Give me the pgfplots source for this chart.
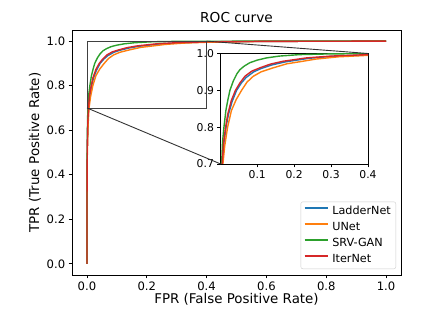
\documentclass[border=0pt]{standalone}
\usepackage{fontspec}
\setmainfont{DejaVu Sans}
\usepackage{pgfplots}
\usepackage{pgfplotstable}
\pgfplotsset{compat=1.18}
\definecolor{mplblue}{HTML}{1F77B4}
\definecolor{mplorange}{HTML}{FF7F0E}
\definecolor{mplgreen}{HTML}{2CA02C}
\definecolor{mplred}{HTML}{D62728}

% ROC points (fpr tpr)
\pgfplotstableread{
fpr tpr
0 0
0.0003 0.32
0.001 0.52
0.003 0.64
0.0055 0.70
0.010 0.76
0.0155 0.80
0.022 0.835
0.032 0.870
0.044 0.900
0.057 0.920
0.070 0.935
0.090 0.950
0.110 0.959
0.140 0.969
0.175 0.977
0.240 0.987
0.300 0.992
0.400 0.996
0.600 0.999
1.000 1.000
}\ladder
\pgfplotstableread{
fpr tpr
0 0
0.0003 0.30
0.001 0.48
0.004 0.63
0.007 0.70
0.012 0.75
0.0197 0.80
0.030 0.845
0.043 0.875
0.0576 0.900
0.072 0.922
0.089 0.938
0.110 0.950
0.143 0.961
0.180 0.972
0.224 0.979
0.260 0.985
0.320 0.991
0.400 0.995
0.600 0.999
1.000 1.000
}\unet
\pgfplotstableread{
fpr tpr
0 0
0.0003 0.35
0.001 0.55
0.002 0.65
0.0035 0.70
0.006 0.76
0.0098 0.80
0.015 0.845
0.020 0.872
0.026 0.900
0.035 0.925
0.045 0.945
0.053 0.956
0.065 0.966
0.080 0.975
0.100 0.982
0.125 0.988
0.160 0.993
0.215 0.997
0.300 0.999
0.400 0.9995
0.600 1.000
1.000 1.000
}\srvgan
\pgfplotstableread{
fpr tpr
0 0
0.0003 0.32
0.001 0.52
0.003 0.64
0.005 0.70
0.009 0.76
0.0143 0.80
0.020 0.835
0.030 0.873
0.041 0.900
0.053 0.920
0.0665 0.938
0.085 0.952
0.107 0.961
0.135 0.971
0.170 0.979
0.233 0.988
0.300 0.993
0.400 0.997
0.600 0.999
1.000 1.000
}\iternet

\begin{document}
\begin{tikzpicture}
\path[use as bounding box] (-72bp,-52bp) rectangle (373bp,275bp);
\begin{axis}[
  width=329bp, height=245bp, scale only axis,
  xmin=-0.05, xmax=1.05, ymin=-0.05, ymax=1.05,
  xtick={0,0.2,0.4,0.6,0.8,1.0},
  ytick={0,0.2,0.4,0.6,0.8,1.0},
  /pgf/number format/.cd, fixed, fixed zerofill, precision=1, assume math mode=true,
  /pgfplots/.cd,
  tick align=outside, tick pos=left,
  major tick length=3.3bp,
  tick style={black, line width=0.76bp},
  axis line style={line width=0.76bp},
  ticklabel style={font=\fontsize{11.6bp}{13bp}\selectfont},
  title={ROC curve},
  every axis title shift=0pt,
  title style={font=\fontsize{13.7bp}{16bp}\selectfont, at={(axis description cs:0.5,1)}, anchor=base, yshift=7.5bp},
  xlabel={FPR (False Positive Rate)},
  ylabel={TPR (True Positive Rate)},
  label style={font=\fontsize{13.4bp}{16bp}\selectfont},
  xlabel style={at={(axis description cs:0.5,0)}, anchor=base, yshift=-28.5bp},
  ylabel style={at={(axis description cs:-0.1125,0.5)}, anchor=center},
  legend style={at={(axis description cs:1,0)}, anchor=south east, xshift=-5bp, yshift=6bp,
    draw=black!20, rounded corners=2bp, fill=white,
    font=\fontsize{11.2bp}{13bp}\selectfont,
    inner xsep=3bp, inner ysep=1.5bp, row sep=0bp, column sep=2bp,
    nodes={inner sep=2bp, text height=9bp, text depth=3bp}},
  legend cell align=left,
  legend image code/.code={\draw[#1, line width=1.5bp] (0bp,3.5bp) -- (23bp,3.5bp);},
]
\addplot[mplblue, line width=1.4bp] table[x=fpr,y=tpr] {\ladder};
\addplot[mplorange, line width=1.4bp] table[x=fpr,y=tpr] {\unet};
\addplot[mplgreen, line width=1.4bp] table[x=fpr,y=tpr] {\srvgan};
\addplot[mplred, line width=1.4bp] table[x=fpr,y=tpr] {\iternet};
\legend{LadderNet, UNet, SRV-GAN, IterNet}
\draw[black!75, line width=0.9bp] (axis cs:0,0.7) rectangle (axis cs:0.4,1.0);
\coordinate (rtr) at (axis cs:0.4,1.0);
\coordinate (rbl) at (axis cs:0,0.7);
\end{axis}
\begin{axis}[
  at={(148.7bp,111bp)}, anchor=south west,
  width=147.3bp, height=110.5bp, scale only axis,
  xmin=0.001, xmax=0.4, ymin=0.7, ymax=1.0,
  xtick={0.1,0.2,0.3,0.4},
  ytick={0.7,0.8,0.9,1.0},
  /pgf/number format/.cd, fixed, fixed zerofill, precision=1, assume math mode=true,
  /pgfplots/.cd,
  tick align=outside, tick pos=left,
  major tick length=3.3bp,
  tick style={black, line width=0.76bp},
  axis line style={line width=0.76bp},
  ticklabel style={font=\fontsize{10.8bp}{12bp}\selectfont},
  axis background/.style={fill=white},
]
\addplot[mplblue, line width=1.4bp] table[x=fpr,y=tpr] {\ladder};
\addplot[mplorange, line width=1.4bp] table[x=fpr,y=tpr] {\unet};
\addplot[mplgreen, line width=1.4bp] table[x=fpr,y=tpr] {\srvgan};
\addplot[mplred, line width=1.4bp] table[x=fpr,y=tpr] {\iternet};
\end{axis}
\draw[black!80, line width=0.9bp] (rtr) -- (296bp,221.5bp);
\draw[black!80, line width=0.9bp] (rbl) -- (148.7bp,111bp);
\end{tikzpicture}
\end{document}
